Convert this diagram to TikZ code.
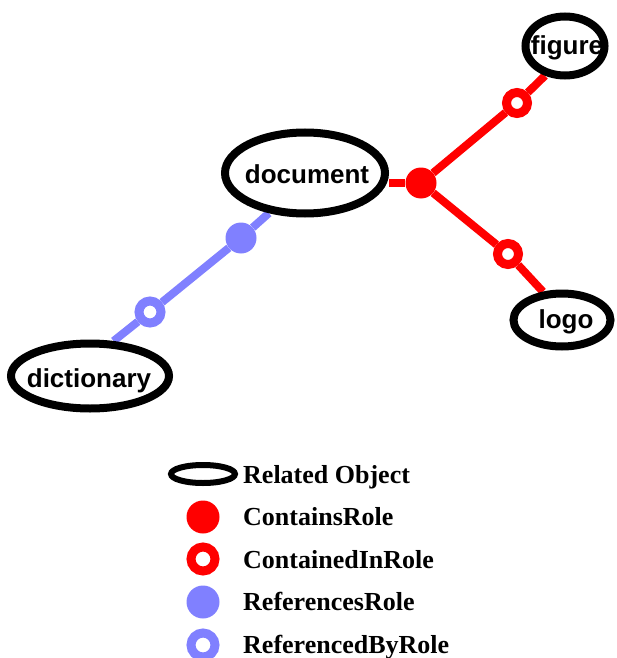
\documentclass[tikz,border=0pt]{standalone}
\usepackage{fontspec}
\setmainfont{Liberation Serif}
\setsansfont{Liberation Sans}
\usetikzlibrary{shapes.geometric}
\definecolor{cred}{RGB}{255,0,0}
\definecolor{cblue}{RGB}{128,128,255}
\pgfdeclarelayer{background}
\pgfsetlayers{background,main}
\begin{document}
\begin{tikzpicture}[x=1pt,y=-1pt,
 obj/.style={draw=black, line width=8pt, ellipse, fill=white, inner sep=0pt},
 objtext/.style={font=\sffamily\bfseries\fontsize{26}{30}\selectfont, inner sep=0pt, anchor=base},
 fillrole/.style={circle, fill=#1, inner sep=0pt, minimum size=31pt},
 openrole/.style={circle, draw=#1, line width=9pt, fill=white, inner sep=0pt, minimum size=21pt},
 link/.style={line width=8pt, draw=#1},
 legtext/.style={font=\rmfamily\bfseries\fontsize{26}{30}\selectfont, inner sep=0pt, anchor=base west}]
\useasboundingbox (0,0) rectangle (616,658);
% objects
\node[obj, minimum width=160pt, minimum height=81pt] (doc) at (305,173) {};
\node[objtext] (doct) at (307,183) {document};
\node[obj, minimum width=79pt, minimum height=59pt] (fig) at (565,46) {};
\node[objtext] (figt) at (567,55) {figure};
\node[obj, minimum width=97pt, minimum height=53pt] (logo) at (562,320) {};
\node[objtext] (logot) at (566,328) {logo};
\node[obj, minimum width=158pt, minimum height=65pt] (dict) at (90,376) {};
\node[objtext] (dictt) at (89,387) {dictionary};
% roles
\node[fillrole=cred] (contains) at (421,183) {};
\node[openrole=cred] (cfig) at (517,103) {};
\node[openrole=cred] (clogo) at (508,254) {};
\node[fillrole=cblue] (refs) at (241,238) {};
\node[openrole=cblue, minimum size=22pt] (refby) at (150,312) {};
% links
\begin{pgfonlayer}{background}
\draw[link=cred] (contains) -- (contains -| doc.east);
\draw[link=cred] (contains) -- (cfig) -- (fig.236);
\draw[link=cred] (contains) -- (clogo) -- (logo.124);
\draw[link=cblue] (doc.228) -- (refs) -- (refby) -- (dict.56);
\end{pgfonlayer}
% legend
\node[obj, line width=6pt, minimum width=64pt, minimum height=18pt] (lobj) at (203,474) {};
\node[legtext] (lobjt) at (243,483) {Related Object};
\node[fillrole=cred, minimum size=33pt] (lcont) at (203,517) {};
\node[legtext] (lcontt) at (243,525.5) {ContainsRole};
\node[openrole=cred, minimum size=24pt] (lcin) at (203,559) {};
\node[legtext] (lcint) at (243,568) {ContainedInRole};
\node[fillrole=cblue, minimum size=33pt] (lref) at (203,602) {};
\node[legtext] (lreft) at (243,610.5) {ReferencesRole};
\node[openrole=cblue, minimum size=24pt] (lrby) at (203,645) {};
\node[legtext] (lrbyt) at (243,653) {ReferencedByRole};
\end{tikzpicture}
\end{document}
